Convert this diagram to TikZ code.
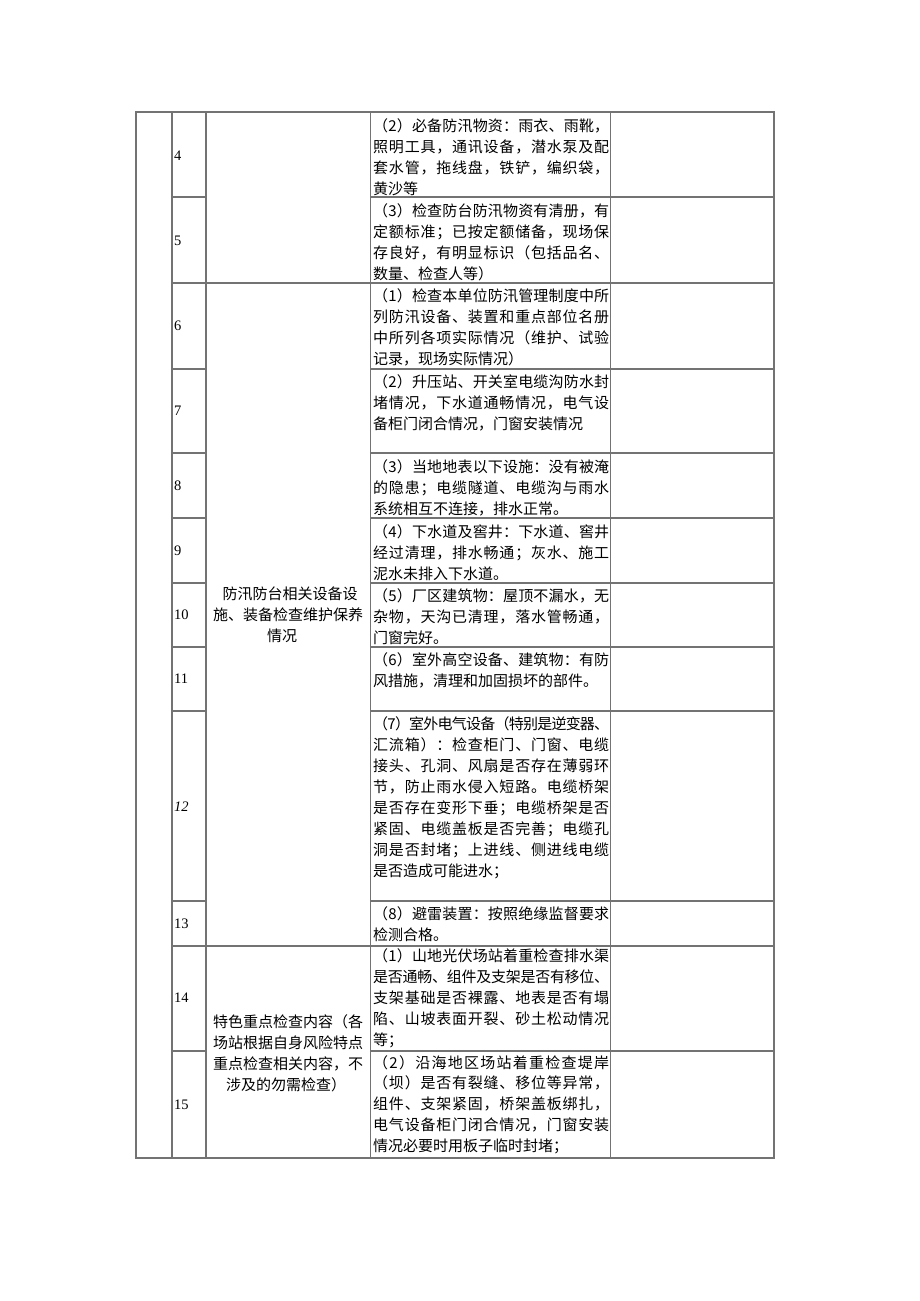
\documentclass[tikz,border=0pt]{standalone}
\usepackage{fontspec}
\setmainfont{Liberation Serif}
\newfontfamily\cjk{Noto Sans CJK SC}
\definecolor{gridgray}{RGB}{115,115,115}
\newcommand\cjkf{\cjk\fontsize{15pt}{18pt}\selectfont}
\newskip\jskip \jskip=0pt plus 1fil minus 1.5pt
\ExplSyntaxOn
\NewDocumentCommand \jl { m }
 {
  \tl_set:Nx \l_tmpa_tl {#1}
  \hbox_to_wd:nn { 236pt }
   {
    \tl_map_inline:Nn \l_tmpa_tl { ##1 \hskip\jskip }
    \unskip
   }
 }
\ExplSyntaxOff
% #1 name, #2 first line centre y, #3 number of justified lines, #4 justified lines, #5 last line
\newcommand\cellrow[5]{%
  \foreach \t [count=\k] in {#4} {\node[ln] (#1-\k) at (373,#2+5.7+20.9*\k-20.9) {\jl{\t}};}
  \node[ln] (#1-last) at (373,#2+5.7+20.9*#3) {#5};
}
\begin{document}
\begin{tikzpicture}[x=1pt,y=-1pt,
  grid/.style={draw=gridgray, line width=1.2pt},
  ln/.style={anchor=base west, inner sep=0pt, font=\cjkf},
  num/.style={anchor=west, inner sep=0pt, font=\fontsize{14.5pt}{17pt}\selectfont},
  mid/.style={anchor=base, inner sep=0pt, font=\cjkf}]
\useasboundingbox (0,0) rectangle (920,1301);
% grid
\draw[grid] (136,112) rectangle (774,1158);
\foreach \x in {172,206,370.5,610.5} \draw[grid] (\x,112) -- (\x,1158);
\foreach \y in {197,283,369,453,518,583,647,711,901,946,1051} {
  \draw[grid] (172,\y) -- (206,\y);
  \draw[grid] (370.5,\y) -- (774,\y);
}
\draw[grid] (206,283) -- (370.5,283);
\draw[grid] (206,946) -- (370.5,946);
% row numbers
\node[num] (n4) at (174,156) {4};
\node[num] (n5) at (174,241) {5};
\node[num] (n6) at (174,326) {6};
\node[num] (n7) at (174,411) {7};
\node[num] (n8) at (174,486) {8};
\node[num] (n9) at (174,551) {9};
\node[num] (n10) at (174,615) {10};
\node[num] (n11) at (174,679) {11};
\node[num] (n12) at (174,807) {\itshape 12};
\node[num] (n13) at (174,924) {13};
\node[num] (n14) at (174,998) {14};
\node[num] (n15) at (174,1105) {15};
% group labels
\node[mid] (ga1) at (290,594+5.7) {防汛防台相关设备设};
\node[mid] (ga2) at (288,615+5.7) {施、装备检查维护保养};
\node[mid] (ga3) at (282,636+5.7) {情况};
\node[mid] (gb1) at (288,1021.5+5.7) {特色重点检查内容（各};
\node[mid] (gb2) at (288,1042.5+5.7) {场站根据自身风险特点};
\node[mid] (gb3) at (288,1063.5+5.7) {重点检查相关内容，不};
\node[mid] (gb4) at (286,1084.5+5.7) {涉及的勿需检查）};
% content cells
\cellrow{r4}{125.8}{3}{（2）必备防汛物资：雨衣、雨靴，,照明工具，通讯设备，潜水泵及配,套水管，拖线盘，铁铲，编织袋，}{黄沙等}
\cellrow{r5}{210.7}{3}{（3）检查防台防汛物资有清册，有,定额标准；已按定额储备，现场保,存良好，有明显标识（包括品名、}{数量、检查人等）}
\cellrow{r6}{295.7}{3}{（1）检查本单位防汛管理制度中所,列防汛设备、装置和重点部位名册,中所列各项实际情况（维护、试验}{记录，现场实际情况）}
\cellrow{r7}{381.7}{2}{（2）升压站、开关室电缆沟防水封,堵情况，下水道通畅情况，电气设}{备柜门闭合情况，门窗安装情况}
\cellrow{r8}{466.7}{2}{（3）当地地表以下设施：没有被淹,的隐患；电缆隧道、电缆沟与雨水}{系统相互不连接，排水正常。}
\cellrow{r9}{531.7}{2}{（4）下水道及窖井：下水道、窖井,经过清理，排水畅通；灰水、施工}{泥水未排入下水道。}
\cellrow{r10}{596}{2}{（5）厂区建筑物：屋顶不漏水，无,杂物，天沟已清理，落水管畅通，}{门窗完好。}
\cellrow{r11}{660}{1}{（6）室外高空设备、建筑物：有防}{风措施，清理和加固损坏的部件。}
\cellrow{r12}{724}{7}{（7）室外电气设备（特别是逆变器、,汇流箱）：检查柜门、门窗、电缆,接头、孔洞、风扇是否存在薄弱环,节，防止雨水侵入短路。电缆桥架,是否存在变形下垂；电缆桥架是否,紧固、电缆盖板是否完善；电缆孔,洞是否封堵；上进线、侧进线电缆}{是否造成可能进水；}
\cellrow{r13}{914}{1}{（8）避雷装置：按照绝缘监督要求}{检测合格。}
\cellrow{r14}{955.7}{4}{（1）山地光伏场站着重检查排水渠,是否通畅、组件及支架是否有移位、,支架基础是否裸露、地表是否有塌,陷、山坡表面开裂、砂土松动情况}{等；}
\cellrow{r15}{1062.3}{4}{（2）沿海地区场站着重检查堤岸,（坝）是否有裂缝、移位等异常，,组件、支架紧固，桥架盖板绑扎，,电气设备柜门闭合情况，门窗安装}{情况必要时用板子临时封堵；}
\end{tikzpicture}
\end{document}
